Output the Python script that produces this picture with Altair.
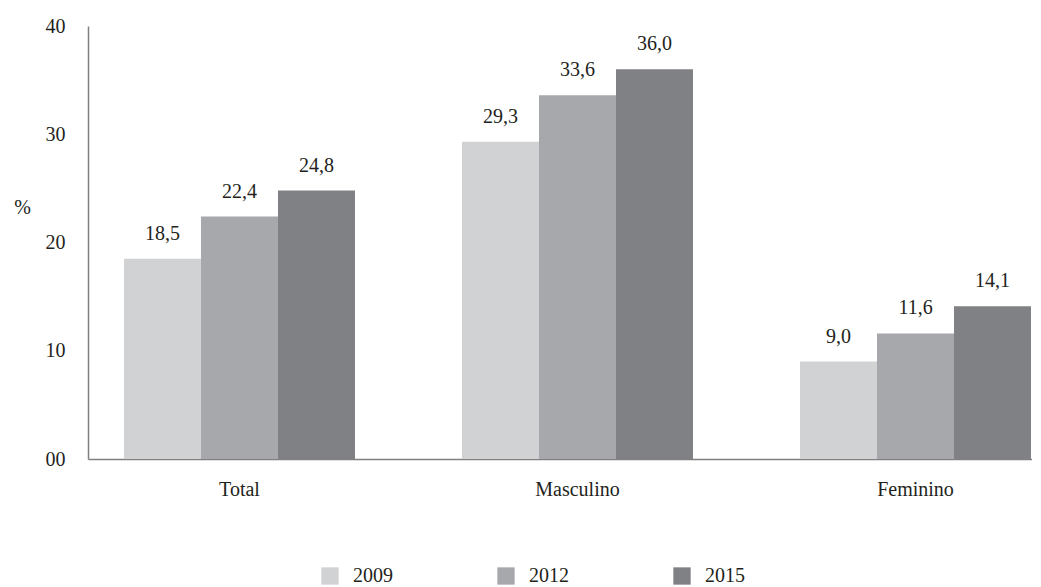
import altair as alt
import pandas as pd

categories = ["Total", "Masculino", "Feminino"]
years = ["2009", "2012", "2015"]
values_2009 = [18.5, 29.3, 9.0]
values_2012 = [22.4, 33.6, 11.6]
values_2015 = [24.8, 36.0, 14.1]
colors = ["#d1d2d4", "#a7a8ab", "#808184"]

rows = []
for year, vals in zip(years, [values_2009, values_2012, values_2015]):
    for cat, v in zip(categories, vals):
        rows.append({"grupo": cat, "ano": year, "valor": v,
                     "rotulo": f"{v:.1f}".replace(".", ",")})
df = pd.DataFrame(rows)

FONT = "Liberation Serif"
TXT = "#231f20"

base = alt.Chart(df).encode(
    x=alt.X("grupo:N", sort=categories, title=None,
            scale=alt.Scale(paddingInner=0.3166, paddingOuter=0.0547, align=0.973),
            axis=alt.Axis(labelAngle=0, ticks=False, domainColor="#808080",
                          domainWidth=1.5, labelPadding=20, labelFontSize=20,
                          labelColor=TXT, labelFont=FONT)),
    xOffset=alt.XOffset("ano:N", sort=years,
                        scale=alt.Scale(paddingInner=0, paddingOuter=0)),
    y=alt.Y("valor:Q", scale=alt.Scale(domain=[0, 40], nice=False, zero=True),
            axis=alt.Axis(values=[0, 10, 20, 30, 40],
                          labelExpr="datum.value == 0 ? '00' : datum.label",
                          ticks=False, grid=False, domainColor="#808080",
                          domainWidth=1.5, labelPadding=23, labelFontSize=20,
                          labelColor=TXT, labelFont=FONT,
                          title="%", titleAngle=0, titleX=-66, titleY=181,
                          titleAlign="center", titleBaseline="middle",
                          titleFontWeight="normal", titleFontSize=20,
                          titleColor=TXT, titleFont=FONT)),
)

bars = base.mark_bar().encode(
    color=alt.Color("ano:N", sort=years,
                    scale=alt.Scale(domain=years, range=colors),
                    legend=alt.Legend(title=None, orient="none", direction="horizontal",
                                      legendX=232, legendY=540,
                                      symbolType="square", symbolSize=300,
                                      symbolStrokeWidth=0, labelOffset=13,
                                      columnPadding=103, labelFontSize=20,
                                      labelColor=TXT, labelFont=FONT))
)

labels = base.mark_text(baseline="alphabetic", dy=-19, fontSize=20,
                        font=FONT, color=TXT).encode(text="rotulo:N")

chart = alt.layer(bars, labels).properties(
    width=944, height=433,
    padding={"left": 80, "top": 18, "right": 0, "bottom": 136},
    autosize=alt.AutoSizeParams(type="none"),
).configure(font=FONT, view=alt.ViewConfig(stroke=None))

chart.save("out.html", embed_options={"renderer": "svg", "actions": False})
